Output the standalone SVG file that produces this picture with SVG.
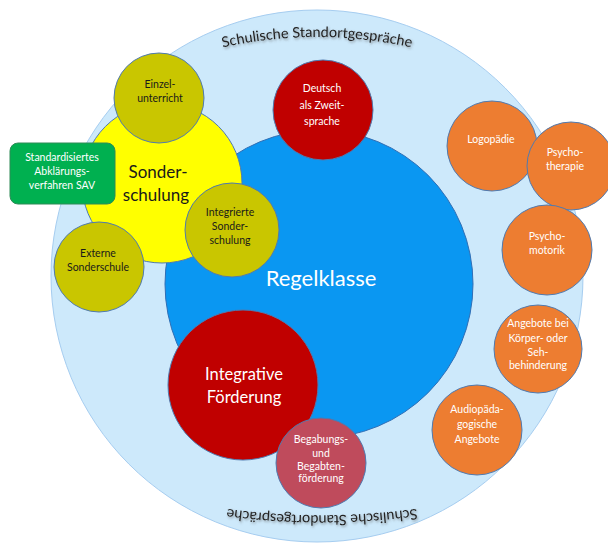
<svg xmlns="http://www.w3.org/2000/svg" width="608" height="547" viewBox="0 0 608 547">
<style>
text{font-family:Lato,"Open Sans","Liberation Sans",sans-serif;text-anchor:middle}
.c{stroke:#4f7ab0;stroke-width:1}
.s{font-size:10.5px}
.w{fill:#ffffff}
.k{fill:#1a1a1a}
.o{fill:#ed7d31}
.ol{fill:#c9c600}
.arc{font-size:14.5px;fill:#222}
</style>
<defs>
<filter id="sh" x="-10%" y="-30%" width="120%" height="160%">
<feDropShadow dx="1" dy="1.5" stdDeviation="1" flood-color="#555" flood-opacity="0.6"/>
</filter>
<path id="topArc" d="M 212,50 A 430,430 0 0 1 422,50"/>
<path id="botArc" d="M 422,508 A 700,700 0 0 1 222,508"/>
</defs>
<g id="outer">
<circle cx="317" cy="276" r="266" fill="#cde9fb" stroke="#a6cdf0" stroke-width="1"/>
<text class="arc" filter="url(#sh)"><textPath href="#topArc" startOffset="50%">Schulische Standortgespräche</textPath></text>
<text class="arc" filter="url(#sh)"><textPath href="#botArc" startOffset="50%">Schulische Standortgespräche</textPath></text>
</g>
<g id="connectors"></g>
<g id="regelklasse">
<circle cx="319" cy="284" r="154" fill="#0a97f2" stroke="#2f6eb5"/>
<text x="321" y="286" class="w" font-size="22">Regelklasse</text>
</g>
<g id="daz">
<circle cx="323" cy="110" r="50" fill="#c00000" class="c"/>
<text class="w s" x="322" y="92">Deutsch</text>
<text class="w s" x="322" y="109">als Zweit-</text>
<text class="w s" x="322" y="125">sprache</text>
</g>
<g id="sonderschulung">
<circle cx="162" cy="183" r="80" fill="#ffff00" class="c"/>
<text class="k" x="158" y="178" font-size="17">Sonder-</text>
<text class="k" x="156" y="201" font-size="17">schulung</text>
</g>
<g id="einzel">
<circle cx="159" cy="98" r="45" class="c ol"/>
<text class="k s" x="160" y="88">Einzel-</text>
<text class="k s" x="160" y="102">unterricht</text>
</g>
<g id="integrierte">
<circle cx="232" cy="230" r="47" class="c ol"/>
<text class="k s" x="230" y="216">Integrierte</text>
<text class="k s" x="230" y="230">Sonder-</text>
<text class="k s" x="230" y="244">schulung</text>
</g>
<g id="externe">
<circle cx="99" cy="267" r="45" class="c ol"/>
<text class="k s" x="98" y="257">Externe</text>
<text class="k s" x="98" y="271">Sonderschule</text>
</g>
<g id="sav">
<rect x="10" y="143" width="105" height="61" rx="8" fill="#00b050" stroke="#2e8b57"/>
<text class="w s" x="62" y="161">Standardisiertes</text>
<text class="w s" x="62" y="175">Abklärungs-</text>
<text class="w s" x="62" y="189">verfahren SAV</text>
</g>
<g id="integrative">
<circle cx="243" cy="385" r="75" fill="#c00000" class="c"/>
<text class="w" x="244" y="380" font-size="16.5">Integrative</text>
<text class="w" x="244" y="403" font-size="16.5">Förderung</text>
</g>
<g id="begabung">
<circle cx="321" cy="463" r="45" fill="#bf4b5c" class="c"/>
<text class="w s" x="321" y="443">Begabungs-</text>
<text class="w s" x="321" y="457">und</text>
<text class="w s" x="321" y="470">Begabten-</text>
<text class="w s" x="321" y="482">förderung</text>
</g>
<g id="logopaedie">
<circle cx="492" cy="146" r="45" class="c o"/>
<text class="w s" x="491" y="143">Logopädie</text>
</g>
<g id="psychotherapie">
<circle cx="571" cy="166" r="44" class="c o"/>
<text class="w s" x="565" y="156">Psycho-</text>
<text class="w s" x="565" y="170">therapie</text>
</g>
<g id="psychomotorik">
<circle cx="547" cy="250" r="45" class="c o"/>
<text class="w s" x="547" y="240">Psycho-</text>
<text class="w s" x="547" y="254">motorik</text>
</g>
<g id="koerper">
<circle cx="538" cy="349" r="44" class="c o"/>
<text class="w s" x="538" y="327">Angebote bei</text>
<text class="w s" x="538" y="342">Körper- oder</text>
<text class="w s" x="538" y="356">Seh-</text>
<text class="w s" x="538" y="369">behinderung</text>
</g>
<g id="audio">
<circle cx="477" cy="430" r="45" class="c o"/>
<text class="w s" x="477" y="413">Audiopäda-</text>
<text class="w s" x="477" y="428">gogische</text>
<text class="w s" x="477" y="443">Angebote</text>
</g>
</svg>
